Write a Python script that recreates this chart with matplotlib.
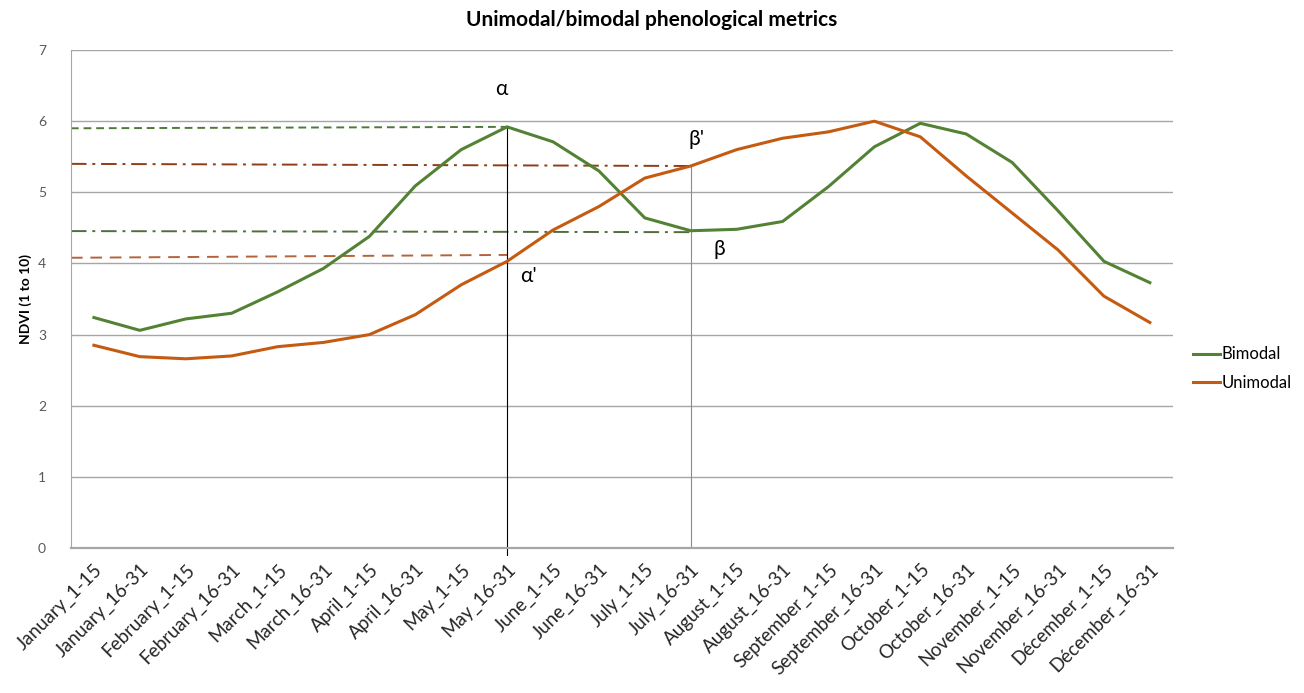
"""Unimodal/bimodal NDVI-profielen met fenologische kenmerken."""

import matplotlib
matplotlib.use('Agg')
import matplotlib.pyplot as plt

plt.rcParams['font.family'] = ['Lato', 'DejaVu Sans']

periodes = [
    'January_1-15', 'January_16-31', 'February_1-15', 'February_16-31',
    'March_1-15', 'March_16-31', 'April_1-15', 'April_16-31',
    'May_1-15', 'May_16-31', 'June_1-15', 'June_16-31',
    'July_1-15', 'July_16-31', 'August_1-15', 'August_16-31',
    'September_1-15', 'September_16-31', 'October_1-15', 'October_16-31',
    'November_1-15', 'November_16-31', 'Décember_1-15', 'Décember_16-31',
]
bimodal = [3.24, 3.06, 3.22, 3.30, 3.60, 3.93, 4.38, 5.09, 5.60, 5.92,
           5.71, 5.30, 4.64, 4.46, 4.48, 4.59, 5.08, 5.64, 5.97, 5.82,
           5.42, 4.74, 4.03, 3.73]
unimodal = [2.85, 2.69, 2.66, 2.70, 2.83, 2.89, 3.00, 3.28, 3.70, 4.03,
            4.47, 4.80, 5.20, 5.37, 5.60, 5.76, 5.85, 6.00, 5.78, 5.23,
            4.71, 4.19, 3.54, 3.17]

# indices van de kenmerken
i_alpha = 9   # piek bimodaal / alpha'
i_beta = 13   # dal bimodaal / beta'

GROEN = '#548235'
ORANJE = '#C55A11'

fig = plt.figure(figsize=(13.04, 6.93), dpi=100)
ax = fig.add_axes([0.0544, 0.2092, 0.845, 0.7186])
x = list(range(len(periodes)))

ax.set_xlim(-0.5, len(periodes) - 0.5)
ax.set_ylim(0, 7)
for v in range(1, 8):
    ax.axhline(v, color='#a6a6a6', lw=1.0, zorder=0)

ax.plot(x, bimodal, color=GROEN, lw=2.2, label='Bimodal', zorder=3)
ax.plot(x, unimodal, color=ORANJE, lw=2.2, label='Unimodal', zorder=3)

# horizontale hulplijnen van de y-as naar de kenmerkpunten
x0 = -0.5
ax.plot([x0, i_alpha], [5.90, bimodal[i_alpha]], color='#4f7a3a', lw=1.4,
        ls=(0, (4, 2.5)), zorder=2)
ax.plot([x0, i_beta], [5.40, unimodal[i_beta]], color='#8e3d18', lw=1.4,
        ls=(0, (8, 3, 1.5, 3)), zorder=2)
ax.plot([x0, i_beta], [4.455, bimodal[i_beta] - 0.02], color='#4f6e3e', lw=1.4,
        ls=(0, (8, 3, 1.5, 3)), zorder=2)
ax.plot([x0, i_alpha], [4.08, 4.12], color='#b5633a', lw=1.4,
        ls=(0, (6, 4)), zorder=2)

# verticale lijnen
ax.plot([i_alpha, i_alpha], [-0.1, bimodal[i_alpha]], color='black', lw=0.8,
        zorder=2, clip_on=False)
ax.plot([i_beta, i_beta], [0, unimodal[i_beta]], color='#8c8c8c', lw=0.8,
        zorder=2)

ax.text(i_alpha - 0.12, 6.45, 'α', fontsize=15, ha='center', va='center')
ax.text(i_alpha + 0.47, 3.82, "α'", fontsize=15, ha='center', va='center')
ax.text(i_beta + 0.12, 5.75, "β'", fontsize=15, ha='center', va='center')
ax.text(i_beta + 0.62, 4.2, 'β', fontsize=15, ha='center', va='center')

for kant in ('top', 'right'):
    ax.spines[kant].set_visible(False)
ax.spines['left'].set_color('#a6a6a6')
ax.spines['bottom'].set_color('#a6a6a6')
ax.spines['bottom'].set_linewidth(1.6)

ax.set_xticks(x)
ax.set_xticklabels(periodes, rotation=45, ha='right', rotation_mode='anchor',
                   fontsize=13.5, color='#262626')
ax.tick_params(axis='x', length=0, pad=9)
ax.set_yticks(range(8))
ax.tick_params(axis='y', length=0, labelsize=10, labelcolor='#595959', pad=18)

ax.set_ylabel('NDVI (1 to 10)', fontsize=10, fontweight='bold', labelpad=4)
fig.suptitle('Unimodal/bimodal phenological metrics', fontsize=15,
             fontweight='bold', x=0.5, y=0.985)

ax.legend(loc='center left', bbox_to_anchor=(1.005, 0.36), frameon=False,
          fontsize=12, handlelength=1.6, handletextpad=0.1, labelspacing=0.75)

fig.savefig('out.png', dpi=100)
